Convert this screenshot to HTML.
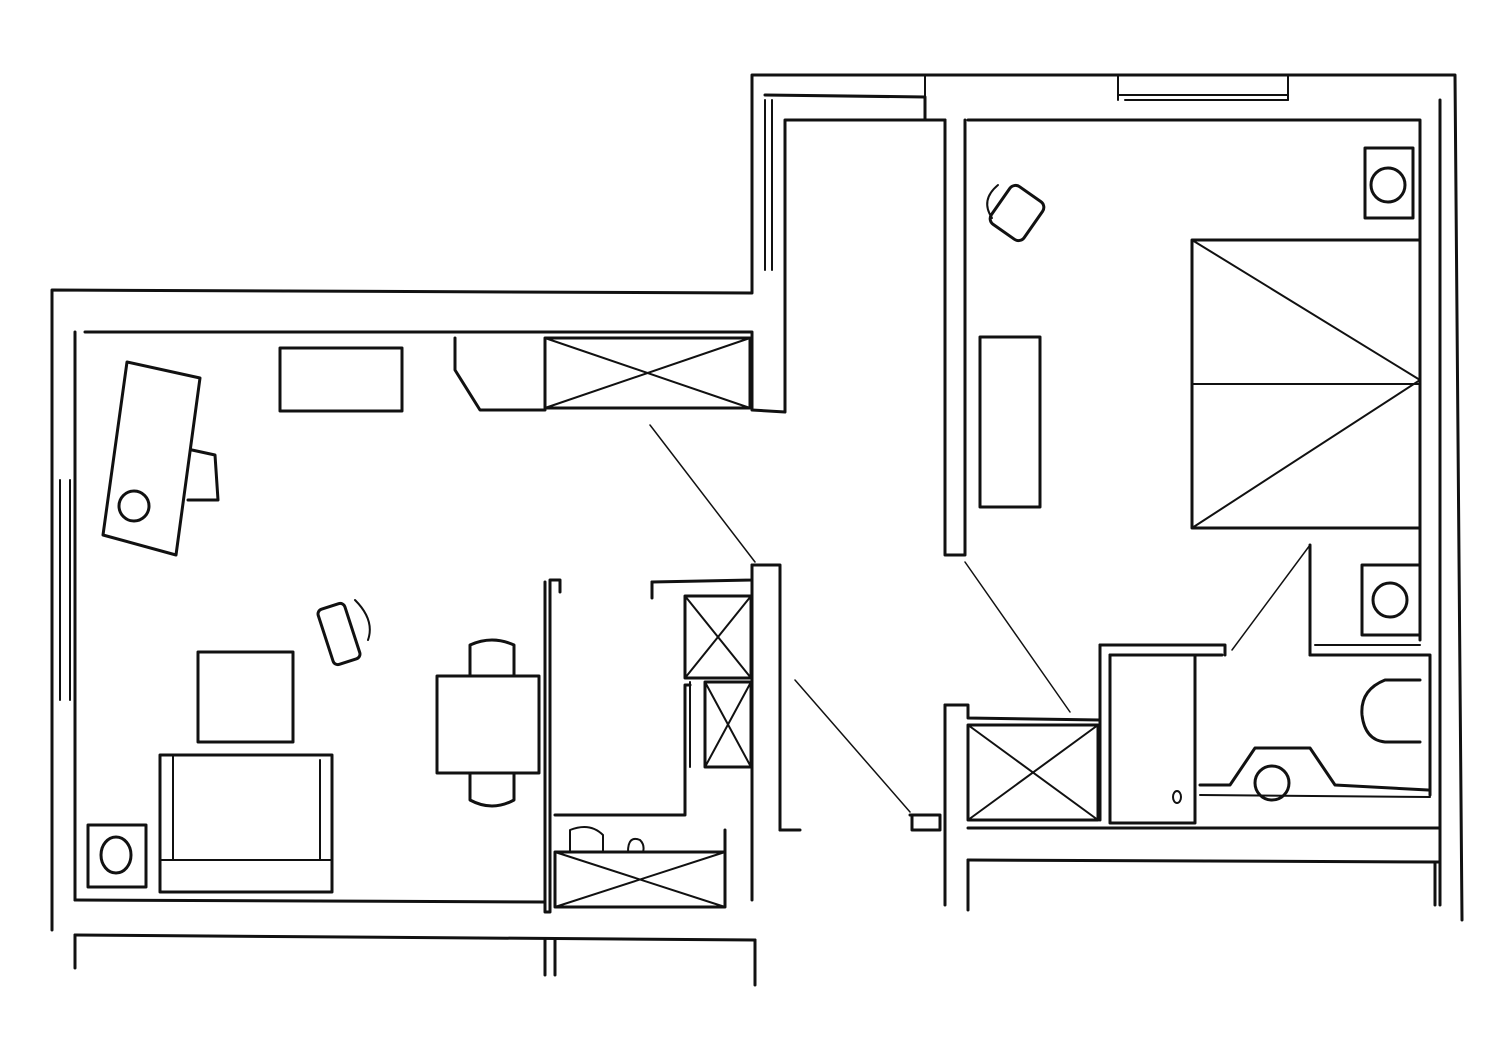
<!DOCTYPE html>
<html><head><meta charset="utf-8"><style>
html,body{margin:0;padding:0;background:#fff;width:1500px;height:1060px;overflow:hidden}
svg{display:block}
</style></head><body>
<svg width="1500" height="1060" viewBox="0 0 1500 1060" xmlns="http://www.w3.org/2000/svg" fill="none" stroke="#111" stroke-width="3" stroke-linecap="round" stroke-linejoin="round">
<polyline points="52,930 52,290 752,293 752,75 1455,75 1462,920"/>
<polyline points="85,332 752,332 752,410 785,412 785,120 945,120"/>
<line x1="75" y1="332" x2="75" y2="900"/>
<line x1="75" y1="900" x2="545" y2="902"/>
<line x1="60" y1="480" x2="60" y2="700" stroke-width="2"/>
<line x1="70" y1="480" x2="70" y2="700" stroke-width="2"/>
<line x1="75" y1="935" x2="755" y2="940"/>
<line x1="75" y1="935" x2="75" y2="968"/>
<line x1="545" y1="940" x2="545" y2="975"/>
<line x1="555" y1="940" x2="555" y2="975"/>
<line x1="755" y1="940" x2="755" y2="985"/>
<polyline points="765,95 925,97 925,120"/>
<line x1="765" y1="100" x2="765" y2="270" stroke-width="2"/>
<line x1="772" y1="100" x2="772" y2="270" stroke-width="2"/>
<line x1="925" y1="75" x2="925" y2="118" stroke-width="2"/>
<line x1="1118" y1="75" x2="1118" y2="100" stroke-width="2"/>
<line x1="1288" y1="75" x2="1288" y2="100" stroke-width="2"/>
<line x1="1118" y1="95" x2="1288" y2="95" stroke-width="2"/>
<line x1="1125" y1="100" x2="1288" y2="100" stroke-width="2"/>
<polyline points="945,120 945,555 965,555 965,120"/>
<polyline points="968,120 1420,120 1420,640"/>
<line x1="1440" y1="100" x2="1440" y2="905"/>
<polyline points="545,582 545,912 550,912 550,580 560,580 560,592"/>
<polyline points="555,815 685,815 685,685 690,685"/>
<polyline points="652,582 752,580 752,565 780,565 780,830"/>
<line x1="652" y1="582" x2="652" y2="598"/>
<line x1="752" y1="565" x2="752" y2="900"/>
<line x1="725" y1="830" x2="725" y2="900"/>
<polyline points="780,830 800,830"/>
<rect x="280" y="348" width="122" height="63"/>
<polyline points="455,338 455,370 480,410 545,410"/>
<rect x="545" y="338" width="205" height="70"/>
<line x1="545" y1="338" x2="750" y2="408" stroke-width="2"/>
<line x1="545" y1="408" x2="750" y2="338" stroke-width="2"/>
<polygon points="127,362 200,378 176,555 103,535"/>
<circle cx="134" cy="506" r="15"/>
<path d="M192,450 L215,455 L218,500 L188,500"/>
<rect x="198" y="652" width="95" height="90"/>
<rect x="160" y="755" width="172" height="137"/>
<line x1="173" y1="755" x2="173" y2="860" stroke-width="2"/>
<line x1="160" y1="860" x2="332" y2="860" stroke-width="2"/>
<line x1="320" y1="760" x2="320" y2="860" stroke-width="2"/>
<rect x="88" y="825" width="58" height="62"/>
<ellipse cx="116" cy="855" rx="15" ry="18"/>
<rect x="325" y="605" width="28" height="58" rx="5" transform="rotate(-18 339 634)"/>
<path d="M355,600 Q375,620 368,640" stroke-width="2"/>
<rect x="437" y="676" width="102" height="97"/>
<path d="M470,676 L470,645 Q492,635 514,645 L514,676"/>
<path d="M470,773 L470,800 Q492,812 514,800 L514,773"/>
<rect x="685" y="596" width="66" height="82"/>
<line x1="685" y1="596" x2="751" y2="678" stroke-width="2"/>
<line x1="685" y1="678" x2="751" y2="596" stroke-width="2"/>
<rect x="705" y="682" width="46" height="85"/>
<line x1="705" y1="682" x2="751" y2="767" stroke-width="2"/>
<line x1="705" y1="767" x2="751" y2="682" stroke-width="2"/>
<line x1="690" y1="682" x2="690" y2="767" stroke-width="2"/>
<rect x="555" y="852" width="170" height="55"/>
<line x1="555" y1="852" x2="725" y2="907" stroke-width="2"/>
<line x1="555" y1="907" x2="725" y2="852" stroke-width="2"/>
<path d="M570,852 L570,830 Q590,822 603,835 L603,852" stroke-width="2"/>
<path d="M628,852 Q628,835 640,840 Q645,845 643,852" stroke-width="2"/>
<line x1="650" y1="425" x2="755" y2="562" stroke-width="1.5"/>
<line x1="795" y1="680" x2="910" y2="812" stroke-width="1.5"/>
<line x1="965" y1="562" x2="1070" y2="712" stroke-width="1.5"/>
<line x1="1310" y1="545" x2="1232" y2="650" stroke-width="1.5"/>
<rect x="1365" y="148" width="48" height="70"/>
<circle cx="1388" cy="185" r="17"/>
<rect x="997" y="190" width="40" height="46" rx="7" transform="rotate(35 1017 213)"/>
<path d="M998,185 Q980,200 992,218" stroke-width="2"/>
<rect x="980" y="337" width="60" height="170"/>
<rect x="1192" y="240" width="228" height="288"/>
<line x1="1192" y1="240" x2="1420" y2="380" stroke-width="2"/>
<line x1="1192" y1="528" x2="1420" y2="380" stroke-width="2"/>
<line x1="1192" y1="384" x2="1420" y2="384" stroke-width="2"/>
<line x1="1310" y1="545" x2="1310" y2="655"/>
<rect x="1362" y="565" width="58" height="70"/>
<circle cx="1390" cy="600" r="17"/>
<polyline points="1310,655 1430,655 1430,795"/>
<line x1="1315" y1="645" x2="1420" y2="645" stroke-width="2"/>
<path d="M1420,680 L1385,680 Q1360,690 1362,715 Q1365,740 1385,742 L1420,742"/>
<polyline points="1100,645 1225,645 1225,655"/>
<polyline points="1100,645 1100,820"/>
<polyline points="1110,655 1222,655"/>
<rect x="1110" y="655" width="85" height="168"/>
<ellipse cx="1177" cy="797" rx="4" ry="6" stroke-width="2"/>
<path d="M1200,785 L1230,785 L1255,748 L1310,748 L1335,785 L1428,790"/>
<line x1="1200" y1="795" x2="1430" y2="797" stroke-width="2"/>
<circle cx="1272" cy="783" r="17"/>
<polyline points="945,705 968,705 968,718 1100,720"/>
<rect x="968" y="725" width="130" height="95"/>
<line x1="968" y1="725" x2="1098" y2="820" stroke-width="2"/>
<line x1="968" y1="820" x2="1098" y2="725" stroke-width="2"/>
<line x1="945" y1="705" x2="945" y2="905"/>
<polyline points="910,815 940,815 940,830 912,830 912,815"/>
<line x1="968" y1="828" x2="1440" y2="828"/>
<line x1="968" y1="860" x2="1440" y2="862"/>
<line x1="968" y1="860" x2="968" y2="910"/>
<line x1="1435" y1="862" x2="1435" y2="905"/>
</svg>
</body></html>
